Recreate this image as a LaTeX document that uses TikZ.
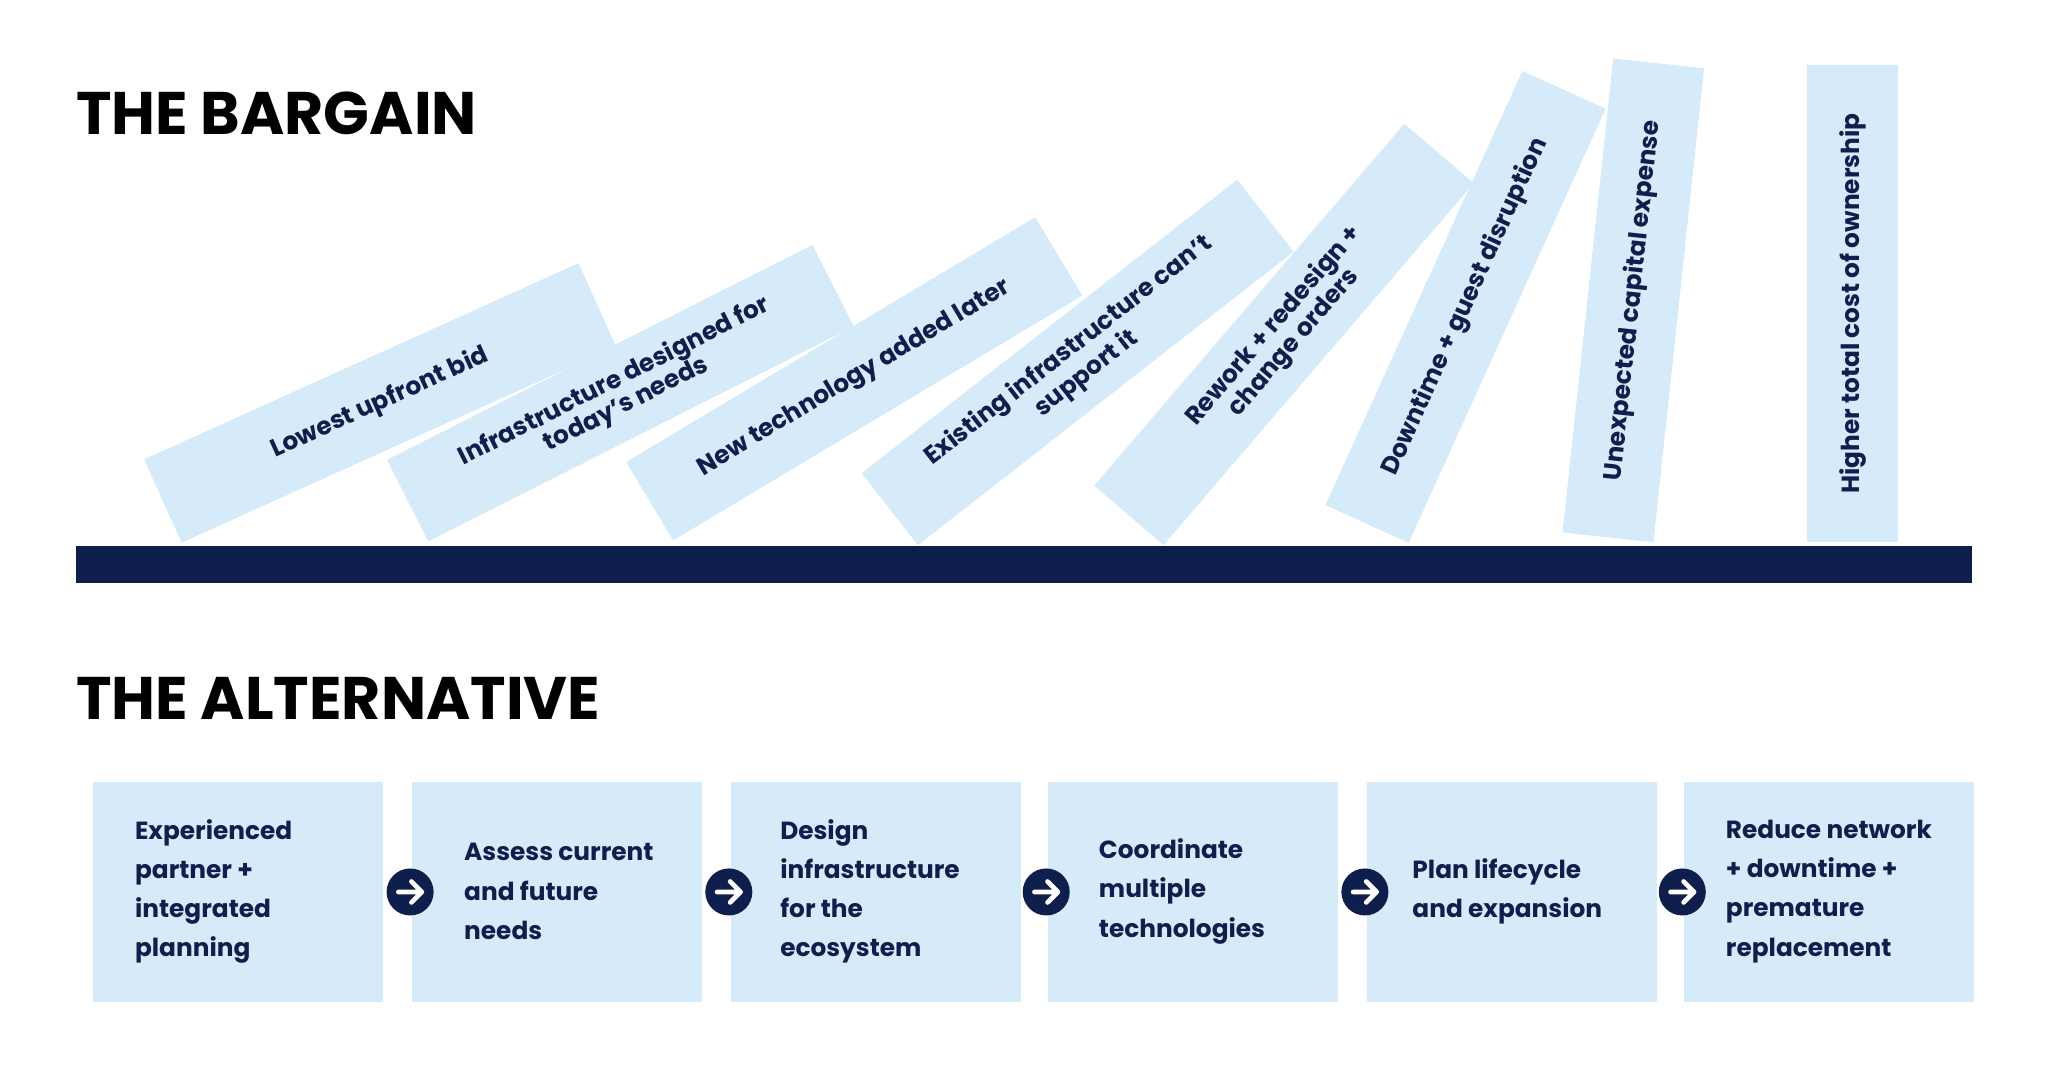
\documentclass[tikz,border=0pt]{standalone}
\usepackage{fontspec}
\setmainfont{Poppins}
\usetikzlibrary{calc}
\definecolor{navy}{HTML}{0F1F4D}
\definecolor{lb}{HTML}{D6EBFA}
\begin{document}
\begin{tikzpicture}[x=0.5pt,y=-0.5pt,
  domino/.style={fill=lb,minimum width=182.5pt,minimum height=35pt,inner sep=0pt,align=center,
     text=navy,font=\bfseries\fontsize{9.5}{10}\selectfont},
  stepbox/.style={fill=lb,minimum width=111pt,minimum height=84.5pt,inner sep=0pt,anchor=north west},
  steptext/.style={anchor=west,align=left,text=navy,inner sep=0pt,
     font=\bfseries\fontsize{9.5}{15}\selectfont},
  title/.style={anchor=base west,inner sep=0pt,font=\bfseries\fontsize{23}{26}\selectfont},
  go/.style={circle,fill=navy,minimum size=18pt,inner sep=0pt}]
\useasboundingbox (0,0) rectangle (1568,819);
\node[title] (t1) at (58,103) {THE BARGAIN};
\node[title] (t2) at (58,551) {THE ALTERNATIVE};
\fill[navy] (58,418) rectangle (1510,446);
\node[domino,rotate=24.3] (d1) at (291,308.5) {Lowest upfront bid};
\node[domino,rotate=26.8] (d2) at (475,301) {Infrastructure designed for\\today’s needs};
\node[domino,rotate=30.9] (d3) at (654,290) {New technology added later};
\node[domino,rotate=38] (d4) at (825,277.5) {Existing infrastructure can’t\\support it};
\node[domino,rotate=49.4] (d5) at (983,256) {Rework + redesign +\\change orders};
\node[domino,rotate=65.6] (d6) at (1122,235) {Downtime + guest disruption};
\node[domino,rotate=83.9] (d7) at (1250.5,230) {Unexpected capital expense};
\node[domino,rotate=90] (d8) at (1418.5,232.5) {Higher total cost of ownership};
\foreach \i/\x/\o/\t in {1/71/32/{Experienced\\partner +\\integrated\\planning},
  2/315/40/{Assess current\\and future\\needs},
  3/559/38/{Design\\infrastructure\\for the\\ecosystem},
  4/802/39/{Coordinate\\multiple\\technologies},
  5/1046/35/{Plan lifecycle\\and expansion},
  6/1289/32/{Reduce network\\+ downtime +\\premature\\replacement}}{
  \node[stepbox] (b\i) at (\x,598) {};
  \node[steptext] (s\i) at (\x+\o,682.5) {\t};
}
\foreach \i [count=\j from 2] in {1,...,5}{
  \node[go] (a\i) at ($(b\j.west)+(-1,0)$) {};
  \draw[white,line width=1.8pt,line cap=round,line join=round]
    ($(a\i)+(-9,0)$) -- ($(a\i)+(9,0)$)
    ($(a\i)+(1,-8)$) -- ($(a\i)+(9,0)$) -- ($(a\i)+(1,8)$);
}
\end{tikzpicture}
\end{document}
